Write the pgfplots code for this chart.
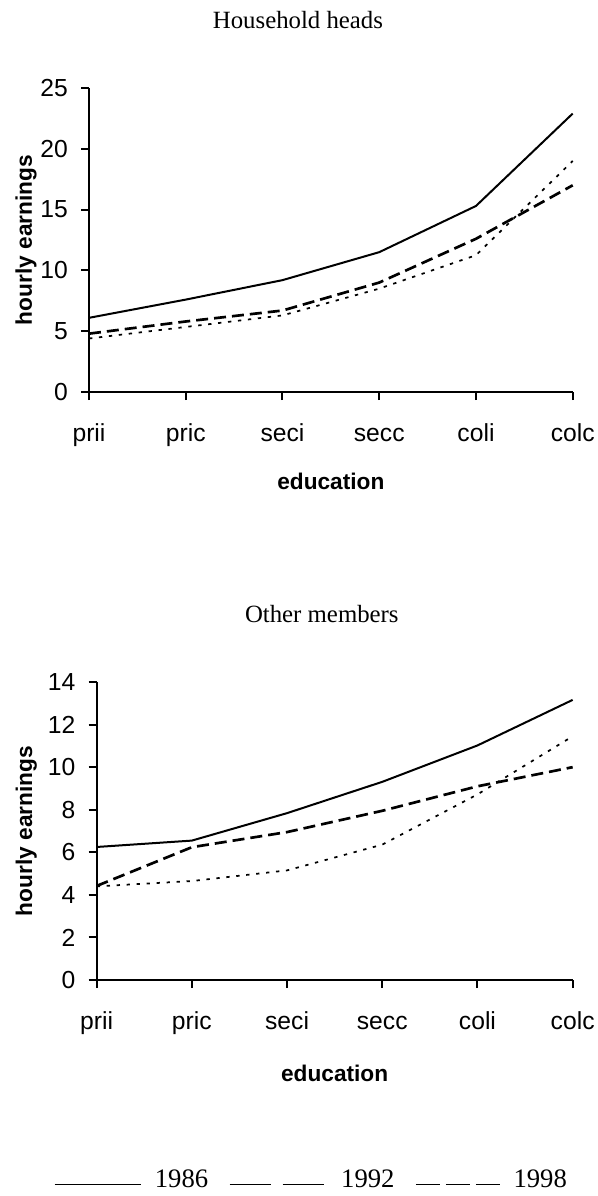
\documentclass[border=0pt]{standalone}
\usepackage{fontspec}
\setmainfont{Liberation Serif}
\setsansfont{Liberation Sans}
\usepackage{pgfplots}
\pgfplotsset{compat=1.18}
\usepackage{pgfplotstable}

% education levels: prii pric seci secc coli colc -> 0..5
\pgfplotstableread{
x  y86   y92   y98
0  6.1   4.8   4.4
1  7.6   5.8   5.35
2  9.2   6.7   6.3
3  11.5  9.0   8.5
4  15.3  12.6  11.25
5  22.9  17.0  19.0
}\heads
\pgfplotstableread{
x  y86   y92   y98
0  6.25  4.42  4.4
1  6.55  6.24  4.65
2  7.84  6.95  5.15
3  9.31  7.95  6.36
4  11.02 9.1   8.72
5  13.16 10.0  11.45
}\others

\pgfplotsset{
  edu/.style={
    scale only axis,
    axis lines=left,
    axis line style={-, line width=1.5pt},
    xmin=0, xmax=5,
    xtick={0,...,5},
    xticklabels={prii,pric,seci,secc,coli,colc},
    tick align=outside,
    major tick length=6pt,
    tick style={line width=1.5pt, black},
    ticklabel style={font=\sffamily\fontsize{18.5}{20}\selectfont, inner sep=0pt},
    xticklabel style={text height=0.75em, text depth=0.25em, yshift=-23.6pt},
    yticklabel style={xshift=-9.75pt},
    /pgf/number format/assume math mode=true,
    xlabel={education},
    ylabel={hourly earnings},
    label style={font=\sffamily\bfseries\fontsize{17}{18}\selectfont},
    xlabel style={at={(axis description cs:0.5,0)}, anchor=base, yshift=-73pt},
    title style={font=\fontsize{18.6}{20}\selectfont, anchor=base, yshift=39pt},
    clip=false,
  },
  s86/.style={black, line width=1.5pt},
  s92/.style={black, line width=2pt, dash pattern=on 9pt off 4.5pt},
  s98/.style={black, line width=1.3pt, dash pattern=on 2.5pt off 5pt},
}

\begin{document}
\begin{tikzpicture}
\useasboundingbox (0,0) rectangle (447.75pt,-897pt);

\begin{axis}[edu,
  at={(66.75pt,-294pt)}, anchor=south west,
  width=362.8pt, height=228pt,
  ymin=0, ymax=25, ytick={0,5,...,25},
  title={Household heads},
  title style={at={(axis description cs:0.432,1)}},
  ylabel style={at={(axis description cs:-0.1300,0.5)}, anchor=center},
]
\addplot[s86] table[x=x,y=y86] {\heads};
\addplot[s92] table[x=x,y=y92] {\heads};
\addplot[s98] table[x=x,y=y98] {\heads};
\end{axis}

\begin{axis}[edu,
  at={(72.5pt,-735pt)}, anchor=south west,
  width=357pt, height=223.5pt,
  ymin=0, ymax=14, ytick={0,2,...,14},
  title={Other members},
  title style={at={(axis description cs:0.473,1)}},
  ylabel style={at={(axis description cs:-0.148,0.5)}, anchor=center},
  xlabel style={yshift=-3pt},
  legend columns=3,
  legend style={at={(axis description cs:0.449,-0.669)}, anchor=center,
    draw=none, fill=none, inner sep=0pt,
    font=\fontsize{20}{22}\selectfont,
    nodes={inner sep=0pt},
    /tikz/every odd column/.append style={column sep=9.75pt},
    /tikz/every even column/.append style={column sep=15.5pt}},
]
\addplot[s86, legend image code/.code={%
  \draw[black, line width=1pt, solid] (0pt,-0.4em) -- (65pt,-0.4em);}]
  table[x=x,y=y86] {\others};
\addlegendentry{1986}
\addplot[s92, legend image code/.code={%
  \draw[black, line width=1pt, dash pattern=on 30.75pt off 9pt] (0pt,-0.4em) -- (73.5pt,-0.4em);}]
  table[x=x,y=y92] {\others};
\addlegendentry{1992}
\addplot[s98, legend image code/.code={%
  \draw[black, line width=1pt, dash pattern=on 18pt off 4.5pt] (0pt,-0.4em) -- (63pt,-0.4em);}]
  table[x=x,y=y98] {\others};
\addlegendentry{1998}
\end{axis}
\end{tikzpicture}
\end{document}
